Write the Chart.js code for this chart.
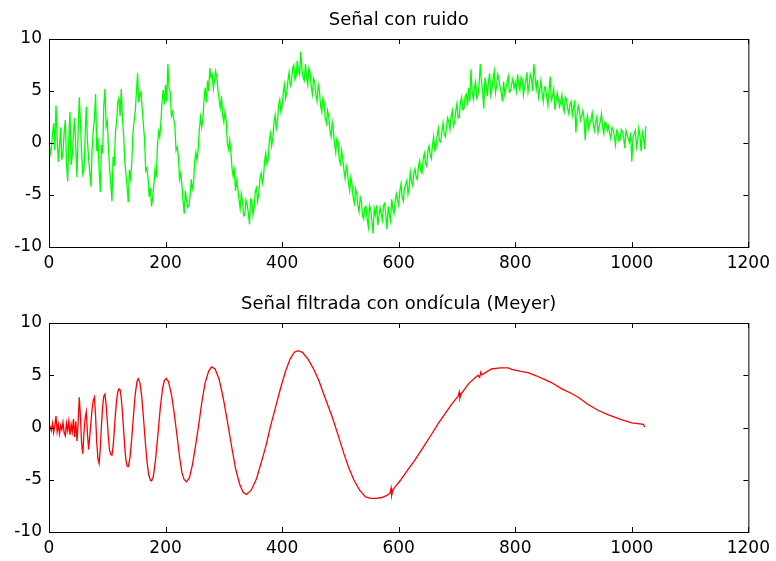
<!DOCTYPE html>
<html>
<head>
<meta charset="utf-8">
<script src="https://cdn.jsdelivr.net/npm/chart.js@4"></script>
<style>
body { margin: 0; background: #fff; }
#wrap { position: relative; width: 776px; height: 561px; }
.panel { position: absolute; left: 0; width: 776px; }
</style>
</head>
<body>
<div id="wrap">
  <div class="panel" style="top:0;height:280px"><canvas id="noisy" width="776" height="280"></canvas></div>
  <div class="panel" style="top:280px;height:281px"><canvas id="filtered" width="776" height="281"></canvas></div>
</div>
<script>
// titles
let noisyTitle = "Señal con ruido";
let filteredTitle = "Señal filtrada con ondícula (Meyer)";

// axis ticks
let xTicks = [0, 200, 400, 600, 800, 1000, 1200];
let yTicks = [-10, -5, 0, 5, 10];

// noisy signal, one value every 2 samples (0..1024), 20 values per row
let sampleStep = 2;
let noisyValues = [
  0.2, -1.1, -0.6, 0.8, 1.9, -0.7, 3.6, 0.5, -1.8, -0.4, 1.5, -1.6, -0.9, 1.0, 2.2, -1.9, -3.7, 0.4, 3.0, -2.1,
  -1.2, 0.9, 2.4, -0.5, -3.3, 1.2, 4.4, 1.9, -1.0, -3.0, -2.6, 0.7, 3.5, 0.2, -1.5, -2.8, -4.2, -0.6, 1.2, 2.4,
  4.7, -0.8, 0.5, -2.6, -4.7, -0.2, -1.0, 3.6, 5.2, 1.6, 2.1, -0.5, -2.4, -3.9, -5.6, -1.3, -2.2, 1.0, 2.0, 3.9,
  4.3, 2.6, 5.2, 2.4, 0.8, -1.7, -3.0, -4.2, -5.7, -2.6, -3.4, -1.9, 0.9, 2.1, 3.0, 4.9, 6.7, 3.9, 4.6, 4.9,
  3.2, 1.8, 0.3, -2.7, -2.4, -3.4, -5.2, -4.3, -6.1, -5.2, -4.0, -2.5, -3.3, -0.4, 1.1, 0.6, 2.0, 4.0, 5.1, 3.7,
  5.6, 4.0, 7.6, 5.3, 4.9, 2.6, 3.0, 2.3, 1.6, -0.7, -0.4, -1.3, -3.5, -2.9, -4.0, -5.5, -6.8, -4.6, -5.5, -6.2,
  -6.0, -5.2, -3.5, -4.4, -3.9, -1.8, -0.9, -1.7, -0.6, 1.3, 2.5, 1.5, 2.3, 4.2, 5.3, 3.9, 6.0, 5.0, 7.2, 6.3,
  6.6, 5.2, 6.0, 6.9, 6.3, 5.0, 4.2, 3.4, 4.5, 2.6, 2.0, 3.0, 2.1, 0.0, -0.6, 0.3, -0.8, -2.4, -3.2, -2.6,
  -4.6, -3.6, -4.4, -5.4, -6.3, -4.9, -5.6, -7.0, -6.9, -5.5, -5.9, -6.7, -7.8, -5.4, -5.5, -6.9, -6.2, -4.6, -4.3, -5.6,
  -4.8, -3.4, -2.9, -3.9, -3.3, -1.7, -1.0, -2.0, -1.6, 0.2, 0.9, -0.3, 0.4, 1.9, 2.7, 1.4, 2.1, 3.6, 4.2, 3.0,
  3.6, 4.8, 5.6, 4.3, 4.9, 6.0, 6.8, 5.5, 5.9, 7.2, 7.5, 6.1, 6.4, 7.9, 7.0, 6.6, 8.8, 7.1, 6.3, 6.0,
  7.6, 6.4, 5.6, 7.2, 6.8, 5.4, 4.7, 6.2, 5.9, 4.6, 4.0, 5.6, 5.0, 3.6, 3.0, 4.3, 3.9, 2.4, 1.9, 3.1,
  2.6, 1.2, 0.6, 2.0, 1.2, -0.1, -0.9, 0.4, 0.1, -1.6, -2.0, -0.7, -1.5, -2.6, -3.4, -2.2, -2.7, -3.9, -4.6, -3.3,
  -4.0, -5.3, -5.8, -4.4, -4.9, -6.0, -6.6, -5.2, -5.6, -7.0, -7.3, -6.2, -6.1, -7.4, -8.1, -6.0, -6.4, -7.6, -8.7, -6.3,
  -6.9, -6.0, -7.9, -7.1, -6.2, -6.8, -7.4, -6.0, -5.8, -7.0, -8.3, -6.1, -6.9, -7.5, -5.4, -6.3, -6.8, -5.6, -4.9, -5.5,
  -6.0, -4.6, -3.9, -5.2, -5.6, -4.3, -4.0, -3.6, -4.9, -4.2, -2.8, -3.7, -4.1, -2.9, -2.5, -3.3, -3.5, -2.2, -1.7, -2.7,
  -2.9, -1.6, -1.0, -1.9, -2.2, -0.8, -0.3, -1.1, -1.5, -0.2, 0.6, -0.7, -0.5, 0.7, 1.4, 0.2, 0.1, 1.0, 1.9, 0.9,
  0.6, 1.5, 2.4, 2.0, 1.3, 2.6, 3.1, 1.6, 2.0, 3.1, 3.8, 2.4, 2.5, 3.9, 4.4, 3.2, 3.3, 4.5, 4.7, 3.6,
  5.3, 4.0, 7.1, 5.0, 4.2, 5.3, 5.9, 4.3, 4.6, 5.7, 7.6, 5.9, 5.0, 3.3, 6.3, 5.6, 4.5, 5.9, 6.7, 4.6,
  5.2, 6.2, 6.9, 4.8, 5.5, 6.6, 6.1, 5.4, 4.9, 4.0, 5.9, 4.7, 5.3, 5.8, 6.4, 4.9, 5.0, 5.7, 6.2, 5.3,
  5.8, 5.0, 6.6, 5.6, 5.1, 6.3, 6.1, 4.6, 5.4, 5.9, 6.8, 4.9, 5.6, 6.6, 6.2, 5.0, 7.6, 6.4, 5.2, 6.1,
  4.4, 5.1, 6.0, 4.8, 4.0, 5.4, 5.3, 4.4, 3.6, 5.0, 6.4, 4.1, 4.5, 5.2, 3.2, 4.0, 4.8, 4.2, 3.5, 3.9,
  4.6, 3.4, 3.0, 4.4, 4.2, 3.3, 2.8, 3.7, 4.0, 2.7, 3.4, 4.1, 1.0, 2.6, 3.6, 3.1, 2.2, 2.6, 3.1, 2.4,
  0.3, 2.0, 2.6, 1.4, 1.9, 2.3, 2.9, 1.8, 1.2, 2.0, 2.5, 1.0, 1.6, 2.1, 2.8, 1.5, 0.9, 2.0, 1.9, 1.2,
  1.6, 0.9, 0.4, 1.5, 1.3, 0.6, -0.2, 1.2, 1.0, 0.2, 0.3, 1.3, 1.1, 0.5, -0.5, 1.2, 0.8, 0.4, 0.1, 1.0,
  -1.8, 0.5, 0.9, 1.2, -0.4, 0.2, 1.4, 0.7, -0.8, 1.1, 0.6, -0.6, 1.6
];

// filtered signal, [sample, value]
let filteredPoints = [
  [0, 0], [2, 0.1], [4, -0.3], [6, 0.4], [8, -0.5], [10, 0.2], [12, 1.1], [14, -0.4],
  [16, 0.3], [18, -0.6], [20, 0.2], [22, -0.2], [24, 0.5], [26, -0.5], [28, -0.8], [30, 0.4],
  [32, -0.3], [34, 0.6], [36, -0.7], [38, 0.3], [40, -0.4], [42, 0.8], [44, -0.9], [46, 0.6],
  [48, -1.3], [50, 0.5], [52, 2.9], [54, 1.0], [56, -1.6], [58, -2.5], [60, -0.5], [62, 0.9],
  [64, 1.5], [66, -0.6], [68, -2.1], [70, -0.8], [72, 0.5], [74, 1.8], [76, 2.6], [78, 2.9],
  [80, 1.0], [82, -1.5], [84, -3.0], [86, -3.45], [88, -2.0], [90, 0.2], [92, 2.0], [94, 3.0],
  [96, 3.2], [98, 2.2], [100, 0.6], [102, -1.0], [104, -2.2], [106, -2.6], [108, -2.66], [110, -1.8],
  [112, -0.3], [114, 1.3], [116, 2.6], [118, 3.4], [120, 3.7], [122, 3.6], [124, 2.8], [126, 1.5],
  [128, -0.2], [130, -1.9], [132, -3.1], [134, -3.7], [136, -3.75], [139, -2.9], [142, -1.0], [145, 1.2],
  [148, 3.2], [151, 4.4], [153, 4.68], [156, 4.3], [159, 3.0], [162, 1.0], [165, -1.2], [168, -3.2],
  [171, -4.5], [174, -5.05], [176, -5.1], [179, -4.7], [183, -3.0], [187, -0.6], [191, 1.9], [195, 3.8],
  [198, 4.5], [201, 4.7], [205, 4.4], [210, 3.2], [215, 1.3], [219, -0.5], [224, -2.8], [228, -4.3],
  [232, -5.0], [236, -5.2], [241, -4.8], [246, -3.6], [251, -1.9], [257, 0.3], [263, 2.7], [268, 4.3],
  [274, 5.4], [279, 5.8], [285, 5.6], [292, 4.6], [299, 2.8], [306, 0.6], [313, -1.7], [320, -3.9],
  [327, -5.4], [333, -6.2], [339, -6.4], [347, -6.0], [356, -4.9], [365, -3.2], [372, -1.8], [380, 0.1],
  [389, 2.0], [398, 3.9], [406, 5.4], [414, 6.6], [421, 7.2], [427, 7.35], [435, 7.2], [445, 6.5],
  [454, 5.6], [463, 4.5], [474, 2.8], [486, 1.0], [497, -0.9], [506, -2.5], [514, -3.8], [523, -5.0],
  [533, -6.0], [543, -6.65], [552, -6.78], [562, -6.78], [571, -6.7], [580, -6.5], [585, -6.3], [587, -5.8],
  [588, -6.5], [590, -6.0], [595, -5.6], [603, -5.05], [615, -4.1], [628, -3.1], [642, -1.9], [657, -0.6],
  [668, 0.4], [680, 1.35], [692, 2.3], [702, 3.0], [704, 3.4], [705, 2.8], [707, 3.2], [720, 4.2],
  [736, 5.0], [739, 4.8], [741, 5.3], [743, 5.05], [759, 5.6], [774, 5.7], [788, 5.7], [794, 5.57],
  [808, 5.4], [822, 5.25], [836, 4.95], [850, 4.6], [862, 4.3], [880, 3.7], [895, 3.3], [908, 2.9],
  [925, 2.2], [942, 1.65], [960, 1.2], [982, 0.75], [1000, 0.45], [1020, 0.3], [1022, 0.05]
];

Chart.defaults.font.family = '"DejaVu Sans", sans-serif';
Chart.defaults.font.size = 17;
Chart.defaults.color = "#000";

// matlab style box, inward ticks on all four sides, title over the axes
const framePlugin = {
  id: "frame",
  afterDraw(chart, args, opts) {
    const ctx = chart.ctx;
    const a = chart.chartArea;
    const xs = chart.scales.x;
    const ys = chart.scales.y;
    ctx.save();
    ctx.strokeStyle = "#000";
    ctx.lineWidth = 1;
    ctx.strokeRect(a.left + 0.5, a.top + 0.5, a.right - a.left, a.bottom - a.top);
    ctx.beginPath();
    xTicks.forEach(v => {
      let px = Math.round(xs.getPixelForValue(v)) + 0.5;
      ctx.moveTo(px, a.bottom); ctx.lineTo(px, a.bottom - 5);
      ctx.moveTo(px, a.top); ctx.lineTo(px, a.top + 5);
    });
    yTicks.forEach(v => {
      let py = Math.round(ys.getPixelForValue(v)) + 0.5;
      ctx.moveTo(a.left, py); ctx.lineTo(a.left + 5, py);
      ctx.moveTo(a.right, py); ctx.lineTo(a.right - 5, py);
    });
    ctx.stroke();
    ctx.fillStyle = "#000";
    ctx.font = '18px "DejaVu Sans", sans-serif';
    ctx.textAlign = "center";
    ctx.textBaseline = "alphabetic";
    ctx.fillText(opts.title, (a.left + a.right) / 2, a.top - 14);
    ctx.restore();
  }
};

function makeOptions(title, areaTop, xAxisHeight) {
  return {
    responsive: false,
    animation: false,
    layout: { padding: { top: areaTop, right: 25, left: 0, bottom: 0 } },
    plugins: {
      legend: { display: false },
      tooltip: { enabled: false },
      frame: { title: title }
    },
    scales: {
      x: {
        type: "linear", min: 0, max: 1200,
        ticks: { stepSize: 200, padding: 6, maxRotation: 0, callback: v => String(v) },
        grid: { display: false, drawTicks: false },
        border: { display: false },
        afterFit(s) { s.height = xAxisHeight; }
      },
      y: {
        min: -10, max: 10,
        ticks: { stepSize: 5, padding: 7, callback: v => String(v) },
        grid: { display: false, drawTicks: false },
        border: { display: false },
        afterFit(s) { s.width = 49; }
      }
    }
  };
}

new Chart(document.getElementById("noisy"), {
  type: "line",
  data: {
    datasets: [{
      data: noisyValues.map((v, i) => ({ x: i * sampleStep, y: v })),
      borderColor: "#00ff00",
      borderWidth: 1.3,
      pointRadius: 0,
      tension: 0
    }]
  },
  options: makeOptions(noisyTitle, 39, 33),
  plugins: [framePlugin]
});

new Chart(document.getElementById("filtered"), {
  type: "line",
  data: {
    datasets: [{
      data: filteredPoints.map(p => ({ x: p[0], y: p[1] })),
      borderColor: "#ff0000",
      borderWidth: 1.3,
      pointRadius: 0,
      tension: 0
    }]
  },
  options: makeOptions(filteredTitle, 43, 29),
  plugins: [framePlugin]
});
</script>
</body>
</html>
